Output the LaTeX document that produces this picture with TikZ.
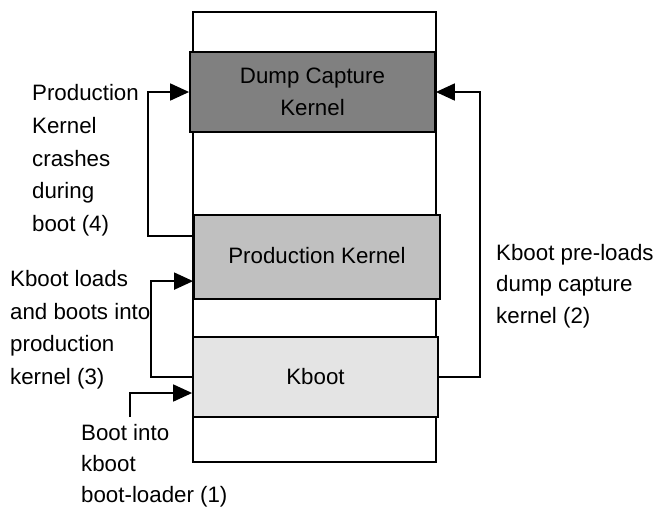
\documentclass[tikz,border=0pt]{standalone}
\usepackage{fontspec}
\setmainfont{Liberation Sans}
\usetikzlibrary{arrows.meta,calc}
\definecolor{dumpgray}{RGB}{128,128,128}
\definecolor{prodgray}{RGB}{192,192,192}
\definecolor{bootgray}{RGB}{228,228,228}
\tikzset{
  memlayer/.style={draw=black, line width=1.8pt, inner sep=0pt, align=center,
    font=\fontsize{22.3}{32}\selectfont},
  flow/.style={draw=black, line width=1.8pt,
    -{Triangle[length=19pt,width=17pt]}},
  note/.style={anchor=base west, align=left, inner sep=0pt}
}
\begin{document}
\begin{tikzpicture}[x=1pt, y=-1pt]
  \useasboundingbox (0,0) rectangle (657,507);
  % memory column
  \node[draw=black, line width=1.8pt, minimum width=243pt, minimum height=450pt, inner sep=0pt]
    (stack) at (314.5,237) {};
  \node[memlayer, fill=dumpgray, minimum width=245pt, minimum height=80pt]
    (dump) at (312.5,92) {Dump Capture\\Kernel};
  \node[memlayer, fill=prodgray, minimum width=246pt, minimum height=84pt]
    (prod) at (317,257) {\raisebox{4pt}{Production Kernel}};
  \node[memlayer, fill=bootgray, minimum width=245pt, minimum height=80pt]
    (kboot) at (315.5,377) {Kboot};
  % step labels (anchored at the baseline of their last line)
  \node[note, font=\fontsize{22.3}{32.75}\selectfont] (l4) at (32,231.7)
    {Production\\Kernel\\crashes\\during\\boot (4)};
  \node[note, font=\fontsize{22.3}{32.5}\selectfont] (l3) at (10,384.3)
    {Kboot loads\\and boots into\\production\\kernel (3)};
  \node[note, font=\fontsize{22.3}{31.6}\selectfont] (l2) at (496,323.3)
    {Kboot pre-loads\\dump capture\\kernel (2)};
  \node[note, font=\fontsize{22.3}{30.6}\selectfont] (l1) at (81,502)
    {Boot into\\kboot\\boot-loader (1)};
  % connectors
  \coordinate (bootin) at (130,417);
  \draw[flow] (bootin) |- ($(kboot.west)+(0,16)$);
  \draw[flow] ($(prod.north west)+(0,22)$) -- ++(-45,0) |- (dump.west);
  \draw[flow] (kboot.west) -- ++(-41,0) |- ($(prod.north west)+(0,67)$);
  \draw[flow] (kboot.east) -- ++(41,0) |- (dump.east);
\end{tikzpicture}
\end{document}
